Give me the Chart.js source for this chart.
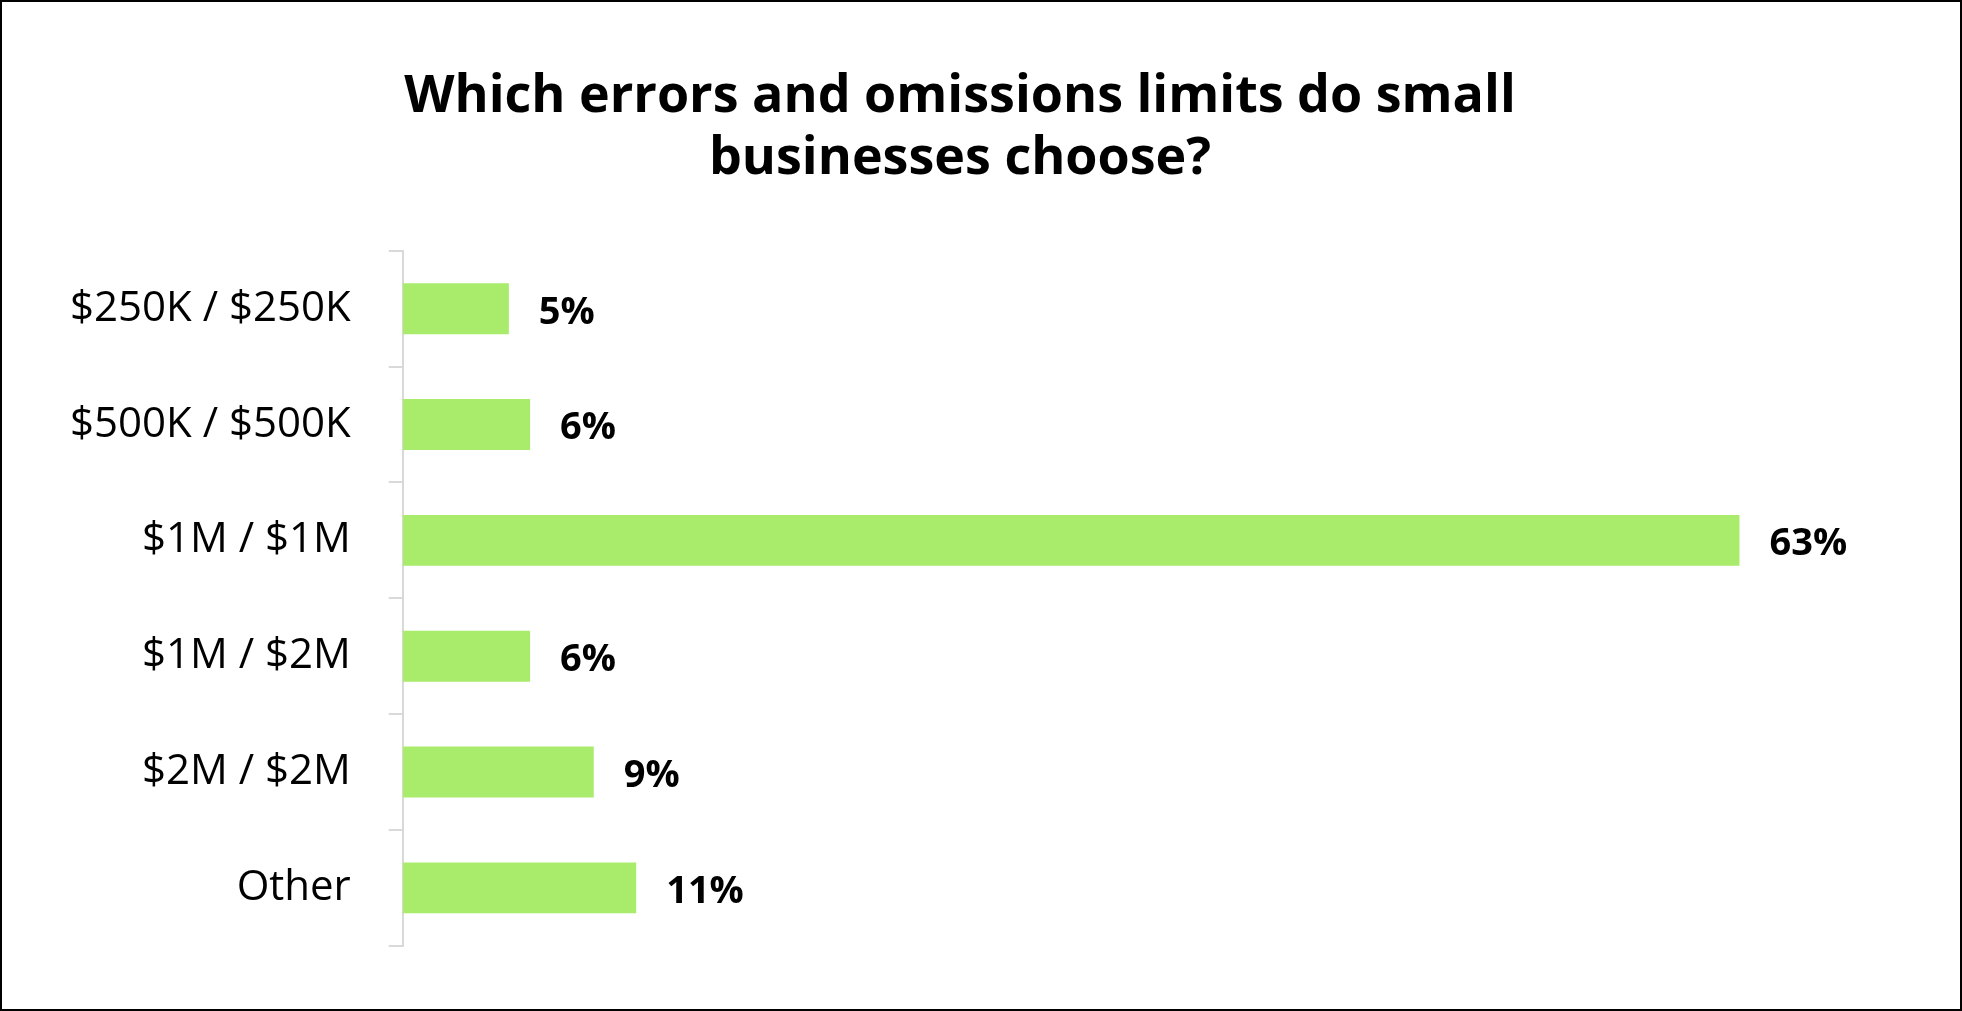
<!DOCTYPE html>
<html>
<head>
<meta charset="utf-8">
<script src="https://cdn.jsdelivr.net/npm/chart.js@4"></script>
<style>
  html, body { margin: 0; padding: 0; background: #fff; }
  #wrap { position: absolute; left: 0; top: 0; width: 1958px; height: 1007px; border: 2px solid #000; }
</style>
</head>
<body>
<div id="wrap"><canvas id="chart"></canvas></div>
<script>
const categories = ['$250K / $250K', '$500K / $500K', '$1M / $1M', '$1M / $2M', '$2M / $2M', 'Other'];
const values = [5, 6, 63, 6, 9, 11];

// подписи значень справа від стовпчиків
const barLabels = {
  id: 'barLabels',
  afterDatasetsDraw(chart) {
    const ctx = chart.ctx;
    const meta = chart.getDatasetMeta(0);
    ctx.save();
    ctx.font = 'bold 38px "Open Sans", "Liberation Sans", sans-serif';
    ctx.fillStyle = '#000';
    ctx.textBaseline = 'middle';
    meta.data.forEach((bar, i) => {
      ctx.fillText(values[i] + '%', bar.x + 30, bar.y + 4);
    });
    ctx.restore();
  }
};

new Chart(document.getElementById('chart'), {
  type: 'bar',
  data: {
    labels: categories,
    datasets: [{
      data: values,
      backgroundColor: '#a9eb6a',
      categoryPercentage: 1,
      barPercentage: 0.44
    }]
  },
  options: {
    indexAxis: 'y',
    responsive: true,
    maintainAspectRatio: false,
    animation: false,
    layout: { padding: { left: 30, right: 72, bottom: 32, top: 0 } },
    plugins: {
      legend: { display: false },
      tooltip: { enabled: false },
      title: {
        display: true,
        text: ['Which errors and omissions limits do small', 'businesses choose?'],
        color: '#000',
        font: { family: '"Open Sans", "Liberation Sans", sans-serif', size: 52, weight: 'bold' },
        padding: { top: 64, bottom: 60 },
        lineHeight: 1.35
      }
    },
    scales: {
      x: { display: false, min: 0, max: 70 },
      y: {
        border: { color: '#d9d9d9', width: 2 },
        grid: { offset: true, drawOnChartArea: false, tickLength: 14, color: '#d9d9d9', lineWidth: 2 },
        ticks: {
          color: '#000',
          padding: 38,
          font: { family: '"Open Sans", "Liberation Sans", sans-serif', size: 42 }
        }
      }
    }
  },
  plugins: [barLabels]
});
</script>
</body>
</html>
